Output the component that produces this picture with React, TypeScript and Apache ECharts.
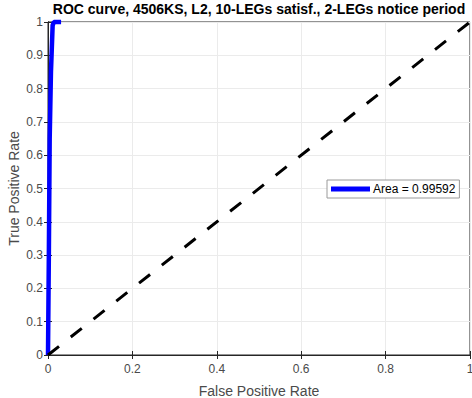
import React, { useEffect, useRef } from "react";
import * as echarts from "echarts";

const titleText = "ROC curve, 4506KS, L2, 10-LEGs satisf., 2-LEGs notice period";
const legendLabel = "Area = 0.99592";
const rocFpr = [0, 0.002, 0.004, 0.007, 0.011, 0.014, 0.022, 0.031];
const rocTpr = [0, 0.3, 0.65, 0.85, 0.99, 1, 1, 1];
const diagFpr = [0, 1];
const diagTpr = [0, 1];
const xTicks = [0, 0.2, 0.4, 0.6, 0.8, 1];
const yTicks = [0, 0.1, 0.2, 0.3, 0.4, 0.5, 0.6, 0.7, 0.8, 0.9, 1];

export default function App() {
  const ref = useRef<HTMLDivElement>(null);
  useEffect(() => {
    document.body.style.margin = "0";
    const chart = echarts.init(ref.current!, null, { renderer: "svg" });
    const font = "'Liberation Sans', Arial, sans-serif";
    const fmt = (v: number) => String(Math.round(v * 10) / 10);
    chart.setOption({
      animation: false,
      backgroundColor: "#ffffff",
      textStyle: { fontFamily: font },
      title: {
        text: titleText,
        left: 254,
        top: -3,
        textAlign: "center",
        textStyle: { fontSize: 14, fontWeight: "bold", color: "#000", fontFamily: font },
      },
      grid: {
        left: 48,
        right: 2,
        top: 22,
        bottom: 43,
        outerBoundsMode: "none",
        containLabel: false,
        show: true,
        borderColor: "#262626",
        borderWidth: 1,
        backgroundColor: "#fff",
      },
      legend: {
        data: [legendLabel],
        left: 327,
        top: 180,
        orient: "vertical",
        backgroundColor: "#fff",
        borderColor: "#9a9a9a",
        borderWidth: 1,
        borderRadius: 0,
        padding: [3, 4, 3, 4],
        itemWidth: 39,
        itemHeight: 5,
        itemGap: 4,
        icon: "rect",
        textStyle: { fontSize: 12, color: "#000", fontFamily: font, padding: [0, 0, 0, -2] },
      },
      xAxis: [
        {
          type: "value",
          min: 0,
          max: 1,
          interval: 0.2,
          name: "False Positive Rate",
          nameLocation: "middle",
          nameGap: 29,
          nameMoveOverlap: false,
          nameTextStyle: { fontSize: 14, color: "#4a4a4a", fontFamily: font },
          axisLine: { show: true, lineStyle: { color: "#262626" } },
          axisTick: { show: true, inside: true, length: 4, lineStyle: { color: "#262626" } },
          axisLabel: {
            fontSize: 12,
            color: "#4a4a4a",
            margin: 8,
            showMaxLabel: true,
            formatter: (v: number) => (xTicks.some((t) => Math.abs(t - v) < 1e-9) ? fmt(v) : ""),
          },
          splitLine: { show: true, lineStyle: { color: "#ebebeb" } },
        },
        {
          type: "value",
          position: "top",
          min: 0,
          max: 1,
          interval: 0.2,
          axisLine: { show: true, lineStyle: { color: "#262626" } },
          axisTick: { show: true, inside: true, length: 4, lineStyle: { color: "#262626" } },
          axisLabel: { show: false },
          splitLine: { show: false },
        },
      ],
      yAxis: [
        {
          type: "value",
          min: 0,
          max: 1,
          interval: 0.1,
          name: "True Positive Rate",
          nameLocation: "middle",
          nameGap: 27,
          nameMoveOverlap: false,
          nameTextStyle: { fontSize: 14, color: "#4a4a4a", fontFamily: font },
          axisLine: { show: true, lineStyle: { color: "#262626" } },
          axisTick: { show: true, inside: true, length: 4, lineStyle: { color: "#262626" } },
          axisLabel: {
            fontSize: 12,
            color: "#4a4a4a",
            margin: 5,
            formatter: (v: number) => (yTicks.some((t) => Math.abs(t - v) < 1e-9) ? fmt(v) : ""),
          },
          splitLine: { show: true, lineStyle: { color: "#ebebeb" } },
        },
        {
          type: "value",
          position: "right",
          min: 0,
          max: 1,
          interval: 0.1,
          axisLine: { show: true, lineStyle: { color: "#262626" } },
          axisTick: { show: true, inside: true, length: 4, lineStyle: { color: "#262626" } },
          axisLabel: { show: false },
          splitLine: { show: false },
        },
      ],
      series: [
        {
          name: legendLabel,
          type: "line",
          data: rocFpr.map((x, i) => [x, rocTpr[i]]),
          showSymbol: false,
          symbol: "none",
          clip: false,
          lineStyle: { color: "#0000ff", width: 4.5 },
          itemStyle: { color: "#0000ff" },
          z: 3,
        },
        {
          name: "diag",
          type: "line",
          data: diagFpr.map((x, i) => [x, diagTpr[i]]),
          showSymbol: false,
          symbol: "none",
          lineStyle: { color: "#000", width: 3, type: [14, 15] },
          itemStyle: { color: "#000" },
          z: 4,
        },
      ],
    });
    return () => chart.dispose();
  }, []);
  return <div ref={ref} style={{ width: 472, height: 398 }} />;
}
